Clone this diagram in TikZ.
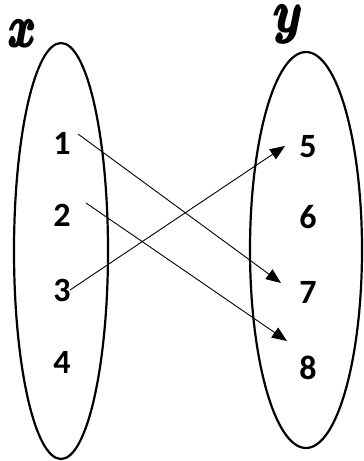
\RequirePackage{fix-cm}
\documentclass[tikz,border=0pt]{standalone}
\usepackage{fontspec}
\setmainfont{Carlito}
\usepackage{amsmath,bm}
\usetikzlibrary{arrows.meta}
\begin{document}
\begin{tikzpicture}[x=1pt,y=-1pt,
  setring/.style={draw=black,line width=2.2pt},
  elem/.style={font=\fontsize{34}{34}\selectfont\bfseries,inner sep=0pt},
  setname/.style={font=\fontsize{58}{58}\selectfont,inner sep=0pt,anchor=base},
  maparrow/.style={line width=0.9pt,-{Triangle[length=15pt,width=12pt]}}]
\useasboundingbox (0,0) rectangle (364,461);
\draw[setring] (61,251) ellipse [x radius=47, y radius=208];
\draw[setring] (306,250) ellipse [x radius=56, y radius=198];
\node[setname] (X) at (23,47) {\scalebox{0.72}[1]{$\pmb{\bm{x}}$}};
\node[setname] (Y) at (289,32) {\scalebox{0.8}[1]{$\pmb{\bm{y}}$}};
\node[elem] (a1) at (62,143) {1};
\node[elem] (a2) at (62,215) {2};
\node[elem] (a3) at (62,290) {3};
\node[elem] (a4) at (62,362) {4};
\node[elem] (b5) at (308,147) {5};
\node[elem] (b6) at (308,217) {6};
\node[elem] (b7) at (308,292) {7};
\node[elem] (b8) at (308,368) {8};
\coordinate (s1) at (78,134);
\coordinate (s2) at (86,203);
\coordinate (s3) at (70,290);
\coordinate (t5) at (285,146);
\coordinate (t7) at (281,283);
\coordinate (t8) at (287,341);
\draw[maparrow] (s1) -- (t7);
\draw[maparrow] (s2) -- (t8);
\draw[maparrow] (s3) -- (t5);
\end{tikzpicture}
\end{document}
